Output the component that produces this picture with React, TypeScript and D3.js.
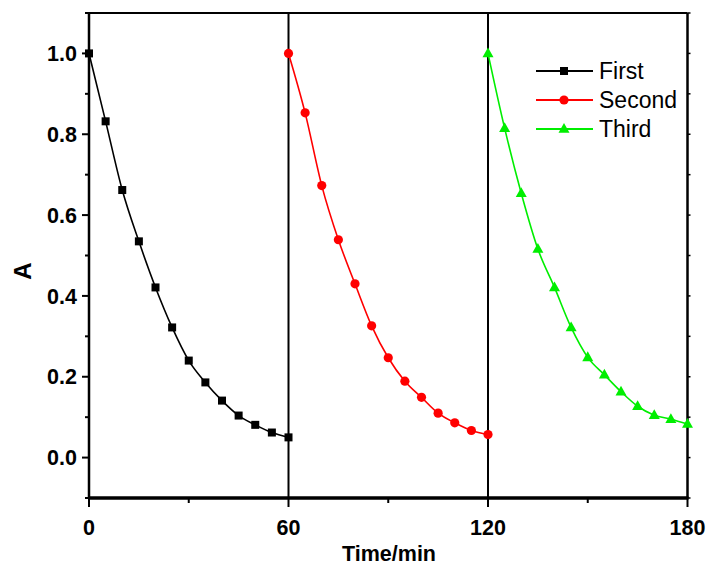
import React from "react";
import * as d3 from "d3";

const timesFirst = [0, 5, 10, 15, 20, 25, 30, 35, 40, 45, 50, 55, 60];
const valuesFirst = [1.0, 0.832, 0.662, 0.535, 0.421, 0.322, 0.24, 0.186, 0.141, 0.104, 0.081, 0.062, 0.05];
const timesSecond = [60, 65, 70, 75, 80, 85, 90, 95, 100, 105, 110, 115, 120];
const valuesSecond = [1.0, 0.853, 0.673, 0.539, 0.43, 0.326, 0.247, 0.189, 0.149, 0.11, 0.086, 0.067, 0.057];
const timesThird = [120, 125, 130, 135, 140, 145, 150, 155, 160, 165, 170, 175, 180];
const valuesThird = [1.0, 0.815, 0.654, 0.516, 0.421, 0.322, 0.248, 0.205, 0.163, 0.127, 0.105, 0.095, 0.083];
const seriesNames = ["First", "Second", "Third"];
const seriesColors = ["#000000", "#ff0000", "#00ee00"];
const xTicks = [0, 60, 120, 180];
const xMinor = [30, 90, 150];
const yTicks = [0, 0.2, 0.4, 0.6, 0.8, 1.0];
const yMinor = [-0.1, 0.1, 0.3, 0.5, 0.7, 0.9, 1.1];
const dividers = [60, 120];

const W = 710, H = 565;
const L = 89, R = 687.5, T = 13, B = 498;
const FONT = "'Liberation Sans', Arial, sans-serif";

export default function App() {
  const x = d3.scaleLinear().domain([0, 180]).range([L, R]);
  const y = d3.scaleLinear().domain([-0.1, 1.1]).range([B, T]);
  const series = [
    { t: timesFirst, v: valuesFirst },
    { t: timesSecond, v: valuesSecond },
    { t: timesThird, v: valuesThird },
  ];
  const line = d3
    .line<[number, number]>()
    .x((d) => x(d[0]))
    .y((d) => y(d[1]))
    .curve(d3.curveMonotoneX);

  const marker = (i: number, cx: number, cy: number, key: string | number) => {
    const c = seriesColors[i];
    if (i === 0) return <rect key={key} x={cx - 4} y={cy - 4} width={8} height={8} fill={c} />;
    if (i === 1) return <circle key={key} cx={cx} cy={cy} r={4.6} fill={c} />;
    return (
      <path
        key={key}
        d={`M${cx},${cy - 6} L${cx + 5.5},${cy + 3.8} L${cx - 5.5},${cy + 3.8} Z`}
        fill={c}
      />
    );
  };

  const fmt = d3.format(".1f");

  return (
    <svg width={W} height={H} style={{ position: "absolute", left: 0, top: 0, background: "#fff" }}>
      <rect x={0} y={0} width={W} height={H} fill="#fff" />
      {/* frame */}
      <line x1={L} x2={R} y1={T} y2={T} stroke="#000" strokeWidth={2} />
      <line x1={R} x2={R} y1={T} y2={B} stroke="#000" strokeWidth={2.5} />
      <line x1={L} x2={L} y1={T} y2={B} stroke="#000" strokeWidth={2.5} />
      {dividers.map((d) => (
        <line key={d} x1={x(d)} x2={x(d)} y1={T} y2={B} stroke="#000" strokeWidth={2} />
      ))}
      {/* y ticks left */}
      {yTicks.map((t) => (
        <g key={"yt" + t}>
          <line x1={L - 7} x2={L} y1={y(t)} y2={y(t)} stroke="#000" strokeWidth={2} />
          <text
            x={L - 12}
            y={y(t)}
            dy="0.36em"
            textAnchor="end"
            fontFamily={FONT}
            fontWeight="bold"
            fontSize={21.5}
          >
            {fmt(t)}
          </text>
        </g>
      ))}
      {yMinor.map((t) => (
        <line key={"ym" + t} x1={L - 4} x2={L} y1={y(t)} y2={y(t)} stroke="#000" strokeWidth={2} />
      ))}
      {/* right ticks */}
      {[...yTicks, ...yMinor].map((t) => (
        <line key={"yr" + t} x1={R} x2={R + 3} y1={y(t)} y2={y(t)} stroke="#000" strokeWidth={1.5} />
      ))}
      {/* x axis */}
      <line x1={L - 1} x2={R + 1} y1={B} y2={B} stroke="#000" strokeWidth={3.5} />
      {xTicks.map((t) => (
        <g key={"xt" + t}>
          <line x1={x(t)} x2={x(t)} y1={B} y2={B + 9} stroke="#000" strokeWidth={2} />
          <text
            x={x(t)}
            y={535}
            textAnchor="middle"
            fontFamily={FONT}
            fontWeight="bold"
            fontSize={21.5}
          >
            {t}
          </text>
        </g>
      ))}
      {xMinor.map((t) => (
        <line key={"xm" + t} x1={x(t)} x2={x(t)} y1={B} y2={B + 5} stroke="#000" strokeWidth={2} />
      ))}
      {/* axis titles */}
      <text x={389} y={561} textAnchor="middle" fontFamily={FONT} fontWeight="bold" fontSize={21.5}>
        Time/min
      </text>
      <text
        transform="translate(31,271) rotate(-90)"
        textAnchor="middle"
        fontFamily={FONT}
        fontWeight="bold"
        fontSize={24}
      >
        A
      </text>
      {/* series */}
      {series.map((s, i) => (
        <g key={"s" + i}>
          <path
            d={line(s.t.map((t, j) => [t, s.v[j]] as [number, number])) || ""}
            fill="none"
            stroke={seriesColors[i]}
            strokeWidth={1.6}
          />
          {s.t.map((t, j) => marker(i, x(t), y(s.v[j]), j))}
        </g>
      ))}
      {/* legend */}
      {seriesNames.map((n, i) => {
        const ly = 71 + i * 29;
        return (
          <g key={"lg" + n}>
            <line x1={536} x2={593} y1={ly} y2={ly} stroke={seriesColors[i]} strokeWidth={2} />
            {marker(i, 564, ly, "m")}
            <text x={599} y={ly} dy="0.36em" fontFamily={FONT} fontSize={23}>
              {n}
            </text>
          </g>
        );
      })}
    </svg>
  );
}
